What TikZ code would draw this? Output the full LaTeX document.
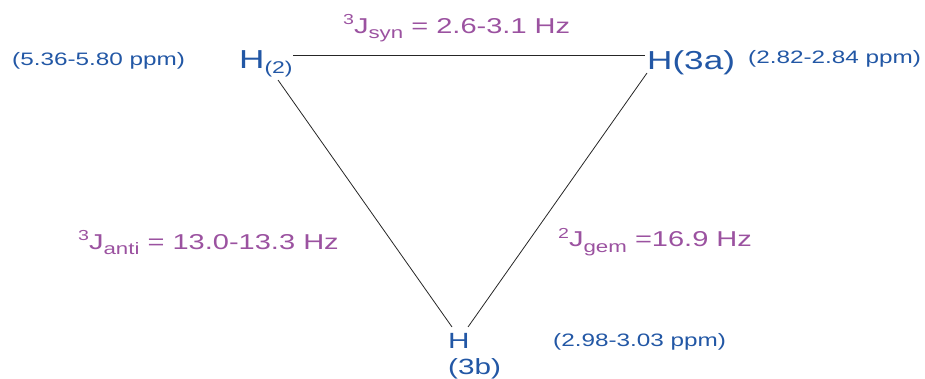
\documentclass[tikz,border=0pt]{standalone}
\usepackage{fontspec}
\setmainfont{Liberation Sans}[FakeStretch=1.35]
\definecolor{hblue}{HTML}{2257A5}
\definecolor{jpurple}{HTML}{9B52A0}
\newcommand\jsup[1]{\raisebox{9pt}{\fontsize{14.5}{14.5}\selectfont #1}}
\newcommand\jsub[1]{\raisebox{-5pt}{\fontsize{16.5}{16.5}\selectfont #1}}
\newcommand\hsub[1]{\raisebox{-4.5pt}{\fontsize{17}{17}\selectfont #1}}
\begin{document}
\begin{tikzpicture}[x=1pt,y=-1pt,
  hlab/.style={text=hblue,inner sep=0pt,font=\fontsize{26}{26}\selectfont},
  hlabs/.style={text=hblue,inner sep=0pt,font=\fontsize{22}{26}\selectfont},
  ppm/.style={text=hblue,inner sep=0pt,font=\fontsize{18}{18}\selectfont},
  jlab/.style={text=jpurple,inner sep=0pt,font=\fontsize{21.5}{21.5}\selectfont},
  bond/.style={draw=black!85,line width=0.8pt}]
\useasboundingbox (0,0) rectangle (925,379);
% H labels
\node[hlab,anchor=base west] (h2) at (239,69) {H\hsub{(2)}};
\node[hlab,anchor=base west] (h3a) at (647,70) {H(3a)};
\node[hlabs,anchor=base west,align=left] (h3b) at (448,374) {H\\(3b)};
% ppm
\node[ppm,anchor=west] (p2) at (12,61) {(5.36-5.80 ppm)};
\node[ppm,anchor=west] (p3a) at (748,59) {(2.82-2.84 ppm)};
\node[ppm,anchor=west] (p3b) at (553,342) {(2.98-3.03 ppm)};
% couplings
\node[jlab,anchor=base west] (jsyn) at (343,34) {\jsup{3}J\jsub{syn} = 2.6-3.1 Hz};
\node[jlab,anchor=base west] (janti) at (78,249) {\jsup{3}J\jsub{anti} = 13.0-13.3 Hz};
\node[jlab,anchor=base west] (jgem) at (558,247) {\jsup{2}J\jsub{gem} =16.9 Hz};
% bond ends
\coordinate (h2r) at (293,55);
\coordinate (h3al) at (645,55);
\coordinate (h2b) at (278,80);
\coordinate (h3ab) at (647,73);
\coordinate (h3btl) at (452,327);
\coordinate (h3btr) at (468,327);
\draw[bond] (h2r) -- (h3al);
\draw[bond] (h2b) -- (h3btl);
\draw[bond] (h3ab) -- (h3btr);
\end{tikzpicture}
\end{document}
